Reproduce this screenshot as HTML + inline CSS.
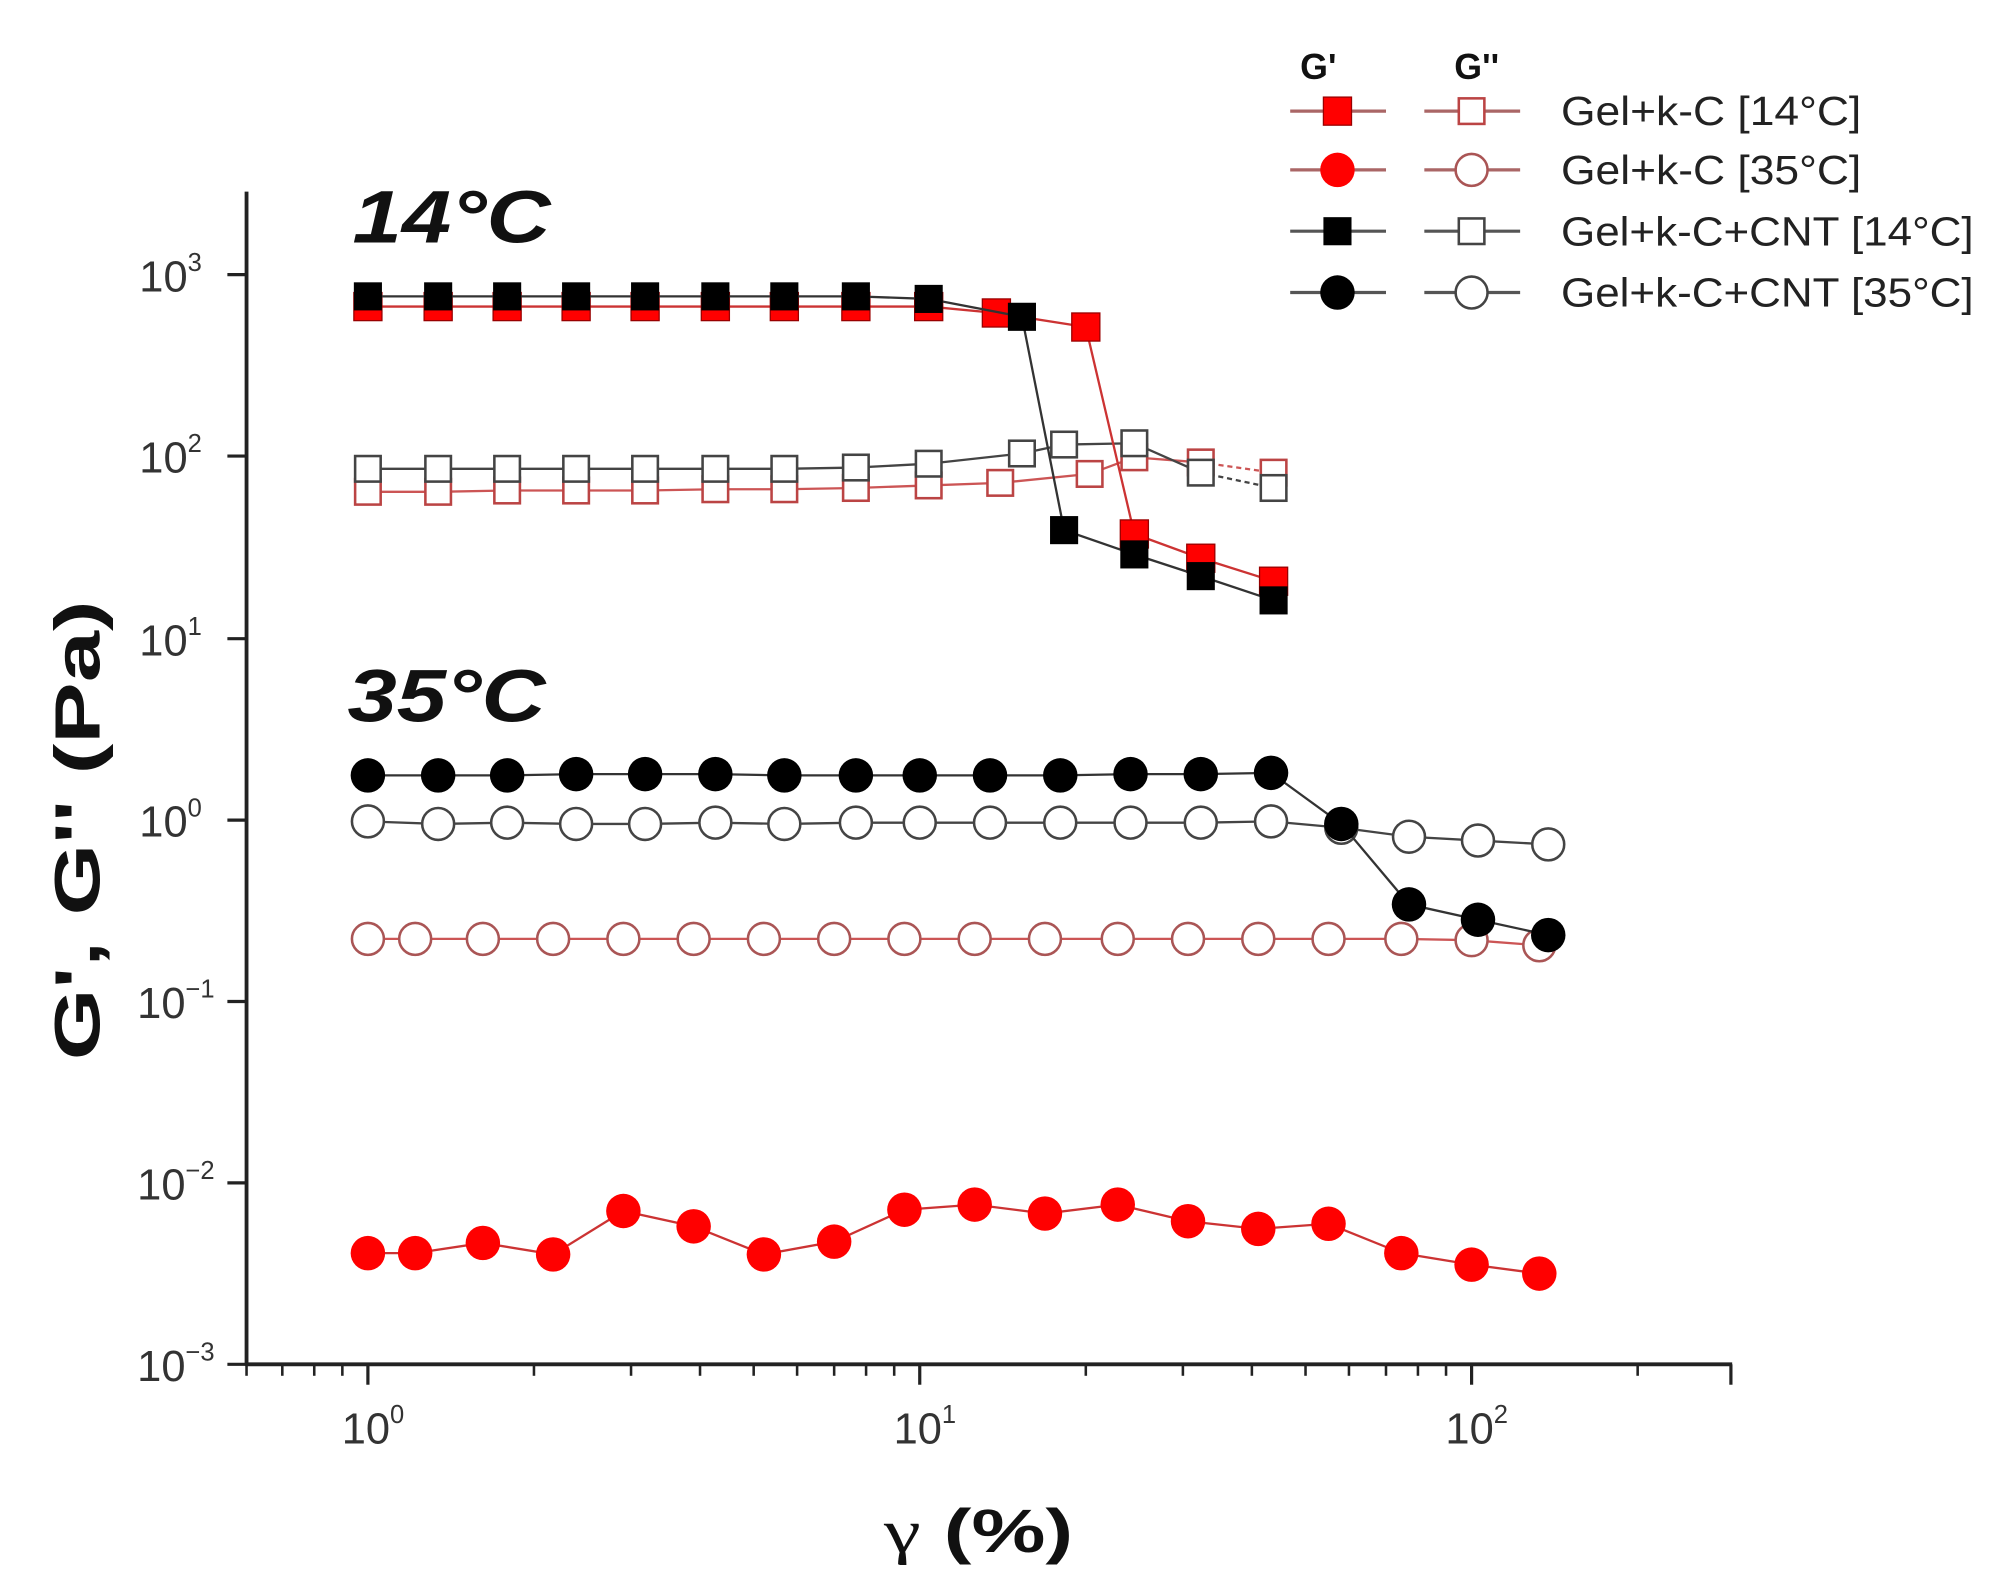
<!DOCTYPE html>
<html><head><style>html,body{margin:0;padding:0;background:#fff}svg{display:block}</style></head>
<body>
<svg width="2003" height="1595" viewBox="0 0 1568 1248.6" preserveAspectRatio="none" xmlns="http://www.w3.org/2000/svg" font-family="Liberation Sans, Arial, sans-serif">
<defs>
<g id="sqR"><rect x="-11" y="-11" width="22" height="22" fill="#f00" stroke="#900" stroke-width="1"/></g>
<g id="sqK"><rect x="-11" y="-11" width="22" height="22" fill="#000"/></g>
<g id="osR"><rect x="-10" y="-10" width="20" height="20" fill="#fff" stroke="#b44" stroke-width="2"/></g>
<g id="osK"><rect x="-10" y="-10" width="20" height="20" fill="#fff" stroke="#444" stroke-width="2"/></g>
<g id="ciR"><circle r="13.5" fill="#f00"/></g>
<g id="ciK"><circle r="13.5" fill="#000"/></g>
<g id="ocR"><circle r="12.5" fill="#fff" stroke="#a55" stroke-width="2"/></g>
<g id="ocK"><circle r="12.5" fill="#fff" stroke="#444" stroke-width="2"/></g>
</defs>
<g stroke="#222" stroke-width="3" fill="none">
<line x1="193" y1="150" x2="193" y2="1069"/>
<line x1="192" y1="1068" x2="1356" y2="1068"/>
</g>
<g stroke="#222" stroke-width="2.5">
<line x1="178" y1="215" x2="193" y2="215"/><line x1="178" y1="357" x2="193" y2="357"/><line x1="178" y1="500" x2="193" y2="500"/><line x1="178" y1="642" x2="193" y2="642"/><line x1="178" y1="784" x2="193" y2="784"/><line x1="178" y1="926" x2="193" y2="926"/><line x1="178" y1="1068" x2="193" y2="1068"/>
<line x1="288" y1="1068" x2="288" y2="1084"/><line x1="720" y1="1068" x2="720" y2="1084"/><line x1="1152" y1="1068" x2="1152" y2="1084"/>
<line x1="1355" y1="1068" x2="1355" y2="1084"/>
</g>
<g stroke="#222" stroke-width="2">
<line x1="193" y1="1068" x2="193" y2="1077"/><line x1="221" y1="1068" x2="221" y2="1077"/><line x1="246" y1="1068" x2="246" y2="1077"/><line x1="268" y1="1068" x2="268" y2="1077"/>
<line x1="418" y1="1068" x2="418" y2="1077"/><line x1="494" y1="1068" x2="494" y2="1077"/><line x1="548" y1="1068" x2="548" y2="1077"/><line x1="590" y1="1068" x2="590" y2="1077"/><line x1="624" y1="1068" x2="624" y2="1077"/><line x1="653" y1="1068" x2="653" y2="1077"/><line x1="678" y1="1068" x2="678" y2="1077"/><line x1="700" y1="1068" x2="700" y2="1077"/>
<line x1="850" y1="1068" x2="850" y2="1077"/><line x1="926" y1="1068" x2="926" y2="1077"/><line x1="980" y1="1068" x2="980" y2="1077"/><line x1="1022" y1="1068" x2="1022" y2="1077"/><line x1="1056" y1="1068" x2="1056" y2="1077"/><line x1="1085" y1="1068" x2="1085" y2="1077"/><line x1="1110" y1="1068" x2="1110" y2="1077"/><line x1="1132" y1="1068" x2="1132" y2="1077"/>
<line x1="1282" y1="1068" x2="1282" y2="1077"/>
</g>
<g font-size="34" fill="#333" text-anchor="end">
<text x="158" y="228">10<tspan font-size="20" dy="-16">3</tspan></text>
<text x="158" y="370">10<tspan font-size="20" dy="-16">2</tspan></text>
<text x="158" y="513">10<tspan font-size="20" dy="-16">1</tspan></text>
<text x="158" y="655">10<tspan font-size="20" dy="-16">0</tspan></text>
<text x="168" y="797">10<tspan font-size="20" dy="-16">−1</tspan></text>
<text x="168" y="939">10<tspan font-size="20" dy="-16">−2</tspan></text>
<text x="168" y="1081">10<tspan font-size="20" dy="-16">−3</tspan></text>
</g>
<g font-size="34" fill="#333" text-anchor="middle">
<text x="292" y="1130">10<tspan font-size="20" dy="-16">0</tspan></text>
<text x="724" y="1130">10<tspan font-size="20" dy="-16">1</tspan></text>
<text x="1156" y="1130">10<tspan font-size="20" dy="-16">2</tspan></text>
</g>
<text x="692" y="1215" font-size="48" font-weight="bold" fill="#111" textLength="148" lengthAdjust="spacingAndGlyphs"><tspan font-family="Liberation Serif, serif" font-weight="normal">γ</tspan> (%)</text>
<text x="0" y="0" transform="translate(78,650) rotate(-90)" font-size="50" font-weight="bold" text-anchor="middle" fill="#111" textLength="360" lengthAdjust="spacingAndGlyphs">G', G'' (Pa)</text>
<text x="276" y="190" font-size="58" font-weight="bold" font-style="italic" fill="#111" textLength="155" lengthAdjust="spacingAndGlyphs">14°C</text>
<text x="272" y="565" font-size="58" font-weight="bold" font-style="italic" fill="#111" textLength="155" lengthAdjust="spacingAndGlyphs">35°C</text>

<polyline fill="none" stroke="#c55" stroke-width="1.8" points="288,385 343,385 397,384 451,384 505,384 560,383 614,383 670,382 727,380 783,378 853,371 888,358 940,362"/>
<polyline fill="none" stroke="#c55" stroke-width="1.8" stroke-dasharray="4,3" points="940,362 997,370"/>
<g><use href="#osR" x="288" y="385"/><use href="#osR" x="343" y="385"/><use href="#osR" x="397" y="384"/><use href="#osR" x="451" y="384"/><use href="#osR" x="505" y="384"/><use href="#osR" x="560" y="383"/><use href="#osR" x="614" y="383"/><use href="#osR" x="670" y="382"/><use href="#osR" x="727" y="380"/><use href="#osR" x="783" y="378"/><use href="#osR" x="853" y="371"/><use href="#osR" x="888" y="358"/><use href="#osR" x="940" y="362"/><use href="#osR" x="997" y="370"/></g>
<polyline fill="none" stroke="#444" stroke-width="1.8" points="288,367 343,367 397,367 451,367 505,367 560,367 614,367 670,366 727,363 800,355 833,348 888,347 940,370"/>
<polyline fill="none" stroke="#444" stroke-width="1.8" stroke-dasharray="4,3" points="940,370 997,382"/>
<g><use href="#osK" x="288" y="367"/><use href="#osK" x="343" y="367"/><use href="#osK" x="397" y="367"/><use href="#osK" x="451" y="367"/><use href="#osK" x="505" y="367"/><use href="#osK" x="560" y="367"/><use href="#osK" x="614" y="367"/><use href="#osK" x="670" y="366"/><use href="#osK" x="727" y="363"/><use href="#osK" x="800" y="355"/><use href="#osK" x="833" y="348"/><use href="#osK" x="888" y="347"/><use href="#osK" x="940" y="370"/><use href="#osK" x="997" y="382"/></g>
<polyline fill="none" stroke="#c33" stroke-width="1.8" points="288,240 343,240 397,240 451,240 505,240 560,240 614,240 670,240 727,240 780,245 850,256 888,418 940,437 997,455"/>
<g><use href="#sqR" x="288" y="240"/><use href="#sqR" x="343" y="240"/><use href="#sqR" x="397" y="240"/><use href="#sqR" x="451" y="240"/><use href="#sqR" x="505" y="240"/><use href="#sqR" x="560" y="240"/><use href="#sqR" x="614" y="240"/><use href="#sqR" x="670" y="240"/><use href="#sqR" x="727" y="240"/><use href="#sqR" x="780" y="245"/><use href="#sqR" x="850" y="256"/><use href="#sqR" x="888" y="418"/><use href="#sqR" x="940" y="437"/><use href="#sqR" x="997" y="455"/></g>
<polyline fill="none" stroke="#333" stroke-width="1.8" points="288,232 343,232 397,232 451,232 505,232 560,232 614,232 670,232 727,234 800,248 833,415 888,434 940,451 997,470"/>
<g><use href="#sqK" x="288" y="232"/><use href="#sqK" x="343" y="232"/><use href="#sqK" x="397" y="232"/><use href="#sqK" x="451" y="232"/><use href="#sqK" x="505" y="232"/><use href="#sqK" x="560" y="232"/><use href="#sqK" x="614" y="232"/><use href="#sqK" x="670" y="232"/><use href="#sqK" x="727" y="234"/><use href="#sqK" x="800" y="248"/><use href="#sqK" x="833" y="415"/><use href="#sqK" x="888" y="434"/><use href="#sqK" x="940" y="451"/><use href="#sqK" x="997" y="470"/></g>

<polyline fill="none" stroke="#c55" stroke-width="1.8" points="288,735 325,735 378,735 433,735 488,735 543,735 598,735 653,735 708,735 763,735 818,735 875,735 930,735 985,735 1040,735 1097,735 1152,736 1205,740"/>
<g><use href="#ocR" x="288" y="735"/><use href="#ocR" x="325" y="735"/><use href="#ocR" x="378" y="735"/><use href="#ocR" x="433" y="735"/><use href="#ocR" x="488" y="735"/><use href="#ocR" x="543" y="735"/><use href="#ocR" x="598" y="735"/><use href="#ocR" x="653" y="735"/><use href="#ocR" x="708" y="735"/><use href="#ocR" x="763" y="735"/><use href="#ocR" x="818" y="735"/><use href="#ocR" x="875" y="735"/><use href="#ocR" x="930" y="735"/><use href="#ocR" x="985" y="735"/><use href="#ocR" x="1040" y="735"/><use href="#ocR" x="1097" y="735"/><use href="#ocR" x="1152" y="736"/><use href="#ocR" x="1205" y="740"/></g>
<polyline fill="none" stroke="#444" stroke-width="1.8" points="288,643 343,645 397,644 451,645 505,645 560,644 614,645 670,644 720,644 775,644 830,644 885,644 940,644 995,643 1050,648 1103,655 1157,658 1212,661"/>
<g><use href="#ocK" x="288" y="643"/><use href="#ocK" x="343" y="645"/><use href="#ocK" x="397" y="644"/><use href="#ocK" x="451" y="645"/><use href="#ocK" x="505" y="645"/><use href="#ocK" x="560" y="644"/><use href="#ocK" x="614" y="645"/><use href="#ocK" x="670" y="644"/><use href="#ocK" x="720" y="644"/><use href="#ocK" x="775" y="644"/><use href="#ocK" x="830" y="644"/><use href="#ocK" x="885" y="644"/><use href="#ocK" x="940" y="644"/><use href="#ocK" x="995" y="643"/><use href="#ocK" x="1050" y="648"/><use href="#ocK" x="1103" y="655"/><use href="#ocK" x="1157" y="658"/><use href="#ocK" x="1212" y="661"/></g>
<polyline fill="none" stroke="#333" stroke-width="1.8" points="288,607 343,607 397,607 451,606 505,606 560,606 614,607 670,607 720,607 775,607 830,607 885,606 940,606 995,605 1050,645 1103,708 1157,720 1212,732"/>
<g><use href="#ciK" x="288" y="607"/><use href="#ciK" x="343" y="607"/><use href="#ciK" x="397" y="607"/><use href="#ciK" x="451" y="606"/><use href="#ciK" x="505" y="606"/><use href="#ciK" x="560" y="606"/><use href="#ciK" x="614" y="607"/><use href="#ciK" x="670" y="607"/><use href="#ciK" x="720" y="607"/><use href="#ciK" x="775" y="607"/><use href="#ciK" x="830" y="607"/><use href="#ciK" x="885" y="606"/><use href="#ciK" x="940" y="606"/><use href="#ciK" x="995" y="605"/><use href="#ciK" x="1050" y="645"/><use href="#ciK" x="1103" y="708"/><use href="#ciK" x="1157" y="720"/><use href="#ciK" x="1212" y="732"/></g>
<polyline fill="none" stroke="#c33" stroke-width="1.8" points="288,981 325,981 378,973 433,982 488,948 543,960 598,982 653,972 708,947 763,943 818,950 875,943 930,956 985,962 1040,958 1097,981 1152,990 1205,997"/>
<g><use href="#ciR" x="288" y="981"/><use href="#ciR" x="325" y="981"/><use href="#ciR" x="378" y="973"/><use href="#ciR" x="433" y="982"/><use href="#ciR" x="488" y="948"/><use href="#ciR" x="543" y="960"/><use href="#ciR" x="598" y="982"/><use href="#ciR" x="653" y="972"/><use href="#ciR" x="708" y="947"/><use href="#ciR" x="763" y="943"/><use href="#ciR" x="818" y="950"/><use href="#ciR" x="875" y="943"/><use href="#ciR" x="930" y="956"/><use href="#ciR" x="985" y="962"/><use href="#ciR" x="1040" y="958"/><use href="#ciR" x="1097" y="981"/><use href="#ciR" x="1152" y="990"/><use href="#ciR" x="1205" y="997"/></g>

<text x="1032" y="62" font-size="28" font-weight="bold" text-anchor="middle" fill="#111">G'</text>
<text x="1156" y="62" font-size="28" font-weight="bold" text-anchor="middle" fill="#111">G''</text>
<g stroke-width="2.5">
<line x1="1010" y1="87" x2="1085" y2="87" stroke="#a66"/><line x1="1115" y1="87" x2="1190" y2="87" stroke="#a66"/>
<line x1="1010" y1="133" x2="1085" y2="133" stroke="#a66"/><line x1="1115" y1="133" x2="1190" y2="133" stroke="#a66"/>
<line x1="1010" y1="181" x2="1085" y2="181" stroke="#555"/><line x1="1115" y1="181" x2="1190" y2="181" stroke="#555"/>
<line x1="1010" y1="229" x2="1085" y2="229" stroke="#555"/><line x1="1115" y1="229" x2="1190" y2="229" stroke="#555"/>
</g>
<use href="#sqR" x="1047" y="87"/><use href="#osR" x="1152" y="87"/>
<use href="#ciR" x="1047" y="133"/><use href="#ocR" x="1152" y="133"/>
<use href="#sqK" x="1047" y="181"/><use href="#osK" x="1152" y="181"/>
<use href="#ciK" x="1047" y="229"/><use href="#ocK" x="1152" y="229"/>
<g font-size="32" fill="#222">
<text x="1222" y="98" textLength="235" lengthAdjust="spacingAndGlyphs">Gel+k-C  [14°C]</text>
<text x="1222" y="144" textLength="235" lengthAdjust="spacingAndGlyphs">Gel+k-C  [35°C]</text>
<text x="1222" y="192" textLength="323" lengthAdjust="spacingAndGlyphs">Gel+k-C+CNT  [14°C]</text>
<text x="1222" y="240" textLength="323" lengthAdjust="spacingAndGlyphs">Gel+k-C+CNT  [35°C]</text>
</g>
</svg>
</body></html>
